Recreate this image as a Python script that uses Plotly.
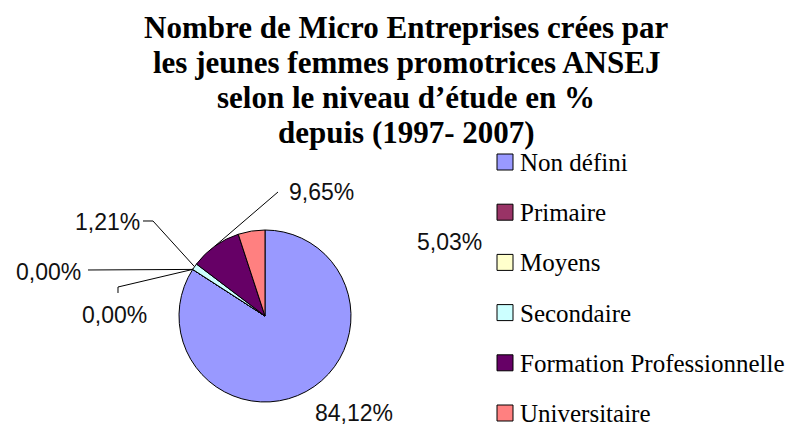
import math
import plotly.graph_objects as go

# Share of micro-enterprises created by young women (ANSEJ), by education level, in %
categories = ["Non défini", "Primaire", "Moyens", "Secondaire",
              "Formation Professionnelle", "Universitaire"]
shares = [84.12, 0.00, 0.00, 1.21, 9.65, 5.03]
colors = ["#9999FF", "#993366", "#FFFFCC", "#CCFFFF", "#660066", "#FF8080"]
title_lines = [
    "Nombre de Micro Entreprises crées par",
    "les jeunes femmes promotrices ANSEJ",
    "selon le niveau d’étude en %",
    "depuis (1997- 2007)",
]

W, H = 796, 429
CX, CY, R = 265, 316, 86          # pie centre and radius, pixels


def px(x):
    return x / W


def py(y):
    return 1 - y / H


fig = go.Figure(go.Pie(
    labels=categories,
    values=shares,
    marker=dict(colors=colors, line=dict(color="black", width=1)),
    sort=False,
    direction="clockwise",
    rotation=0,
    textinfo="none",
    showlegend=False,
    domain=dict(x=[px(CX - R), px(CX + R)], y=[py(CY + R), py(CY - R)]),
))

# Percentage labels: text centre and leader-line elbows (pixels), per slice
label_layout = [
    ((354, 413), None),
    ((115, 315), [(118, 293), (118, 287)]),
    ((48, 272), [(88, 270)]),
    ((107, 222), [(143, 221), (153, 221)]),
    ((321, 192), [(278, 192)]),
    ((449, 242), None),
]

annotations = []
shapes = []
total = sum(shares)
cum = 0.0
for value, (centre, elbows) in zip(shares, label_layout):
    mid = math.radians((cum + value / 2) / total * 360)
    cum += value
    edge = (CX + R * math.sin(mid), CY - R * math.cos(mid))
    annotations.append(dict(
        x=px(centre[0]), y=py(centre[1]), xref="paper", yref="paper",
        text=f"{value:.2f}".replace(".", ",") + "%", showarrow=False,
        xanchor="center", yanchor="middle",
        font=dict(family="Liberation Sans", size=23, color="#111111"),
    ))
    if elbows:
        pts = elbows + [edge]
        path = "M " + " L ".join(f"{px(x):.5f} {py(y):.5f}" for x, y in pts)
        shapes.append(dict(type="path", path=path, xref="paper", yref="paper",
                           line=dict(color="black", width=1)))

# Title, one line per annotation
for i, line in enumerate(title_lines):
    annotations.append(dict(
        x=px(406), y=py(27.5 + 35 * i), xref="paper", yref="paper",
        text=f"<b>{line}</b>", showarrow=False,
        xanchor="center", yanchor="middle",
        font=dict(family="Liberation Serif", size=31, color="black"),
    ))

# Legend: swatch and category name per slice
LX, LY0, LSTEP, SW = 505, 162, 50.2, 16
for i, (name, col) in enumerate(zip(categories, colors)):
    y = LY0 + LSTEP * i
    shapes.append(dict(type="rect", xref="paper", yref="paper",
                       x0=px(LX - SW / 2), x1=px(LX + SW / 2),
                       y0=py(y + SW / 2), y1=py(y - SW / 2),
                       fillcolor=col, line=dict(color="black", width=1)))
    annotations.append(dict(
        x=px(518), y=py(y + 0.5), xref="paper", yref="paper",
        text=name, showarrow=False, xanchor="left", yanchor="middle",
        font=dict(family="Liberation Serif", size=25, color="black"),
    ))

fig.update_layout(
    width=W, height=H,
    margin=dict(l=0, r=0, t=0, b=0),
    paper_bgcolor="white",
    plot_bgcolor="white",
    annotations=annotations,
    shapes=shapes,
    showlegend=False,
)

fig.write_html("out.html")
